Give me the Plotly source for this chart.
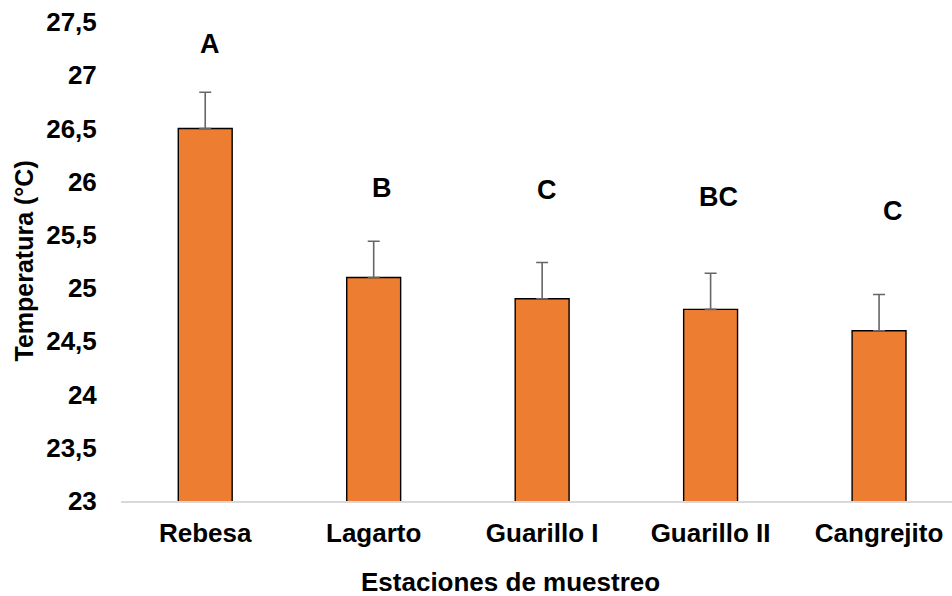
import plotly.graph_objects as go

categories = ["Rebesa", "Lagarto", "Guarillo I", "Guarillo II", "Cangrejito"]
temperatura = [26.5, 25.1, 24.9, 24.8, 24.6]
error_sup = [0.34, 0.34, 0.34, 0.34, 0.34]
letras = ["A", "B", "C", "BC", "C"]
letras_y = [27.29, 25.94, 25.92, 25.86, 25.72]
letras_dx = [5, 8, 5, 8, 14]
y_ticks = [23, 23.5, 24, 24.5, 25, 25.5, 26, 26.5, 27, 27.5]
y_ticktext = ["23", "23,5", "24", "24,5", "25", "25,5", "26", "26,5", "27", "27,5"]

FONT = "Liberation Sans, Arial, sans-serif"
FS = 27

fig = go.Figure()
fig.add_trace(go.Bar(
    x=categories, y=temperatura,
    width=0.32,
    marker=dict(color="#ED7D31", line=dict(color="#000000", width=1.4)),
    error_y=dict(type="data", array=error_sup, arrayminus=[0]*len(error_sup),
                 symmetric=False, color="#666666", thickness=1.6, width=6),
))

for c, t, yy, dx in zip(categories, letras, letras_y, letras_dx):
    fig.add_annotation(x=c, y=yy, text=t, showarrow=False, xshift=dx,
                       font=dict(family=FONT, size=FS, color="black", weight="bold"),
                       xanchor="center", yanchor="middle")

fig.add_annotation(xref="paper", yref="paper", x=0, y=0.5, xshift=-98,
                   text="Temperatura (°C)", textangle=-90, showarrow=False,
                   xanchor="center", yanchor="middle",
                   font=dict(family=FONT, size=FS - 2, color="black", weight="bold"))
fig.add_annotation(xref="paper", yref="paper", x=0.469, y=0, yshift=-81,
                   text="Estaciones de muestreo", showarrow=False,
                   xanchor="center", yanchor="middle",
                   font=dict(family=FONT, size=FS - 1, color="black", weight="bold"))

fig.update_layout(
    width=952, height=596,
    margin=dict(l=121, r=0, t=22, b=94.5, autoexpand=False),
    paper_bgcolor="white", plot_bgcolor="white",
    showlegend=False,
    font=dict(family=FONT, color="black"),
)
fig.update_xaxes(
    range=[-0.5, 4.433],
    showline=True, linecolor="#d9d9d9", linewidth=1.5,
    ticks="outside", ticklen=8, tickcolor="rgba(0,0,0,0)",
    tickfont=dict(family=FONT, size=FS - 1, color="black", weight="bold"),
    showgrid=False, zeroline=False,
)
fig.update_yaxes(
    range=[23, 27.5],
    tickvals=y_ticks, ticktext=y_ticktext,
    ticks="outside", ticklen=18, tickcolor="rgba(0,0,0,0)",
    tickfont=dict(family=FONT, size=FS - 1, color="black", weight="bold"),
    showgrid=False, zeroline=False, showline=False,
)

fig.write_html("out.html", config={"displayModeBar": False},
               post_script="document.body.style.margin='0';document.body.style.overflow='hidden';")
